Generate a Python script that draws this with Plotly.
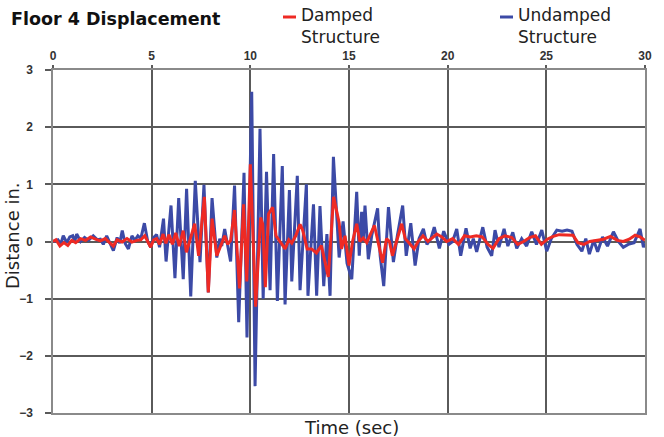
import plotly.graph_objects as go

# ---- data ----
undamped_t = [0.00, 0.25, 0.40, 0.52, 0.70, 0.85, 1.00, 1.10, 1.20, 1.40, 1.60, 1.80, 2.04, 2.25, 2.40,
              2.55, 2.72, 2.90, 3.06, 3.25, 3.38, 3.51, 3.65, 3.82, 4.00, 4.15, 4.30, 4.45, 4.63, 4.80,
              4.95, 5.10, 5.25, 5.40, 5.60, 5.73, 5.98, 6.18, 6.37, 6.60, 6.77, 6.98, 7.21, 7.45, 7.65,
              7.87, 8.06, 8.30, 8.45, 8.55, 8.70, 9.00, 9.20, 9.41, 9.68, 9.83, 10.07, 10.24, 10.49,
              10.65, 10.82, 11.00, 11.18, 11.37, 11.62, 11.76, 11.98, 12.10, 12.38, 12.52, 12.84, 12.92,
              13.20, 13.36, 13.53, 13.72, 13.88, 14.04, 14.21, 14.50, 14.70, 14.90, 15.14, 15.39, 15.52,
              15.64, 15.72, 15.81, 15.98, 16.15, 16.45, 16.58, 16.76, 17.00, 17.25, 17.45, 17.72, 17.90,
              18.13, 18.35, 18.55, 18.77, 18.95, 19.15, 19.32, 19.58, 19.80, 20.06, 20.25, 20.46, 20.66,
              20.93, 21.14, 21.30, 21.47, 21.78, 22.00, 22.23, 22.40, 22.60, 22.86, 23.05, 23.30, 23.50,
              23.75, 24.00, 24.26, 24.50, 24.77, 25.02, 25.25, 25.53, 25.80, 26.05, 26.30, 26.55, 26.80,
              27.00, 27.18, 27.40, 27.60, 27.85, 28.10, 28.40, 28.65, 28.90, 29.15, 29.45, 29.75, 29.92,
              30.00]
undamped_v = [0.00, 0.03, -0.04, 0.10, -0.02, 0.08, 0.10, 0.00, 0.13, 0.00, 0.07, 0.02, 0.10, 0.03, 0.04,
              -0.05, 0.10, -0.03, -0.16, 0.07, -0.03, 0.19, -0.03, -0.13, 0.10, 0.02, 0.10, 0.05, 0.32, 0.00,
              -0.10, 0.07, 0.12, -0.10, 0.40, -0.35, 0.63, -0.64, 0.76, -0.66, 0.92, -0.96, 1.06, -0.36, 0.99,
              -0.89, 0.76, -0.28, 0.05, -0.08, 0.22, -0.35, 0.98, -1.41, 1.20, -1.68, 2.62, -2.53, 1.97,
              -1.00, 1.22, -0.85, 1.53, -1.04, 1.32, -1.10, 0.90, -0.70, 1.15, -0.85, 1.00, -0.95,
              0.65, -0.95, 0.62, -0.78, 0.13, -0.95, 1.48, -0.28, 0.35, -0.38, -0.66, 0.87, -0.25,
              0.52, 0.00, 0.63, -0.31, 0.10, 0.58, -0.25, -0.78, 0.60, -0.36, 0.10, 0.63, -0.25,
              0.32, -0.42, 0.05, 0.22, -0.05, 0.05, 0.25, -0.12, 0.18, -0.05, 0.00, 0.22, -0.25,
              0.23, -0.12, 0.05, -0.18, 0.25, -0.10, -0.25, 0.20, -0.10, 0.22, -0.08, 0.16, -0.12,
              0.05, -0.08, 0.17, -0.05, 0.20, -0.17, 0.05, 0.20, 0.18, 0.20, 0.18, -0.05, -0.17,
              0.05, -0.22, 0.02, -0.18, 0.08, -0.08, 0.17, 0.00, -0.10, -0.05, -0.02, 0.22, -0.10,
              -0.03]

damped_t = [0.00, 0.15, 0.35, 0.55, 0.75, 0.95, 1.15, 1.40, 1.65, 1.90, 2.15, 2.40, 2.65, 2.90, 3.06,
            3.25, 3.50, 3.75, 4.00, 4.25, 4.45, 4.65, 4.80, 4.95, 5.10, 5.25, 5.40, 5.58, 5.72, 5.88,
            6.05, 6.22, 6.40, 6.60, 6.76, 6.95, 7.18, 7.38, 7.67, 7.87, 8.06, 8.30, 8.55, 8.70, 8.85,
            9.00, 9.20, 9.45, 9.66, 9.82, 10.00, 10.27, 10.52, 10.63, 10.76, 10.92, 11.13, 11.30, 11.50,
            11.76, 11.95, 12.10, 12.30, 12.52, 12.65, 12.88, 13.10, 13.35, 13.60, 13.95, 14.22, 14.50,
            14.62, 14.80, 15.00, 15.18, 15.39, 15.55, 15.72, 15.90, 16.05, 16.29, 16.48, 16.70, 16.90,
            17.05, 17.20, 17.67, 17.85, 18.05, 18.30, 18.50, 18.75, 19.00, 19.25, 19.45, 19.70, 19.95,
            20.25, 20.55, 20.85, 21.15, 21.45, 21.75, 22.05, 22.30, 22.60, 22.90, 23.25, 23.55, 23.85,
            24.15, 24.45, 24.75, 25.05, 25.35, 25.65, 26.00, 26.35, 26.60, 26.90, 27.20, 27.55, 27.90,
            28.25, 28.60, 28.90, 29.20, 29.50, 29.75, 30.00]
damped_v = [0.00, 0.03, -0.08, -0.02, -0.07, 0.02, -0.02, 0.05, 0.02, 0.08, 0.04, 0.01, 0.05, -0.04, -0.08,
            0.03, -0.01, 0.05, -0.01, 0.02, 0.03, 0.10, 0.01, -0.10, 0.03, 0.05, -0.05, 0.13, -0.03, 0.12,
            -0.05, 0.15, -0.08, 0.19, -0.19, 0.05, 0.31, -0.25, 0.78, -0.89, 0.40, -0.25, -0.03, 0.10, -0.05,
            0.02, 0.55, -0.82, 0.65, -0.70, 1.35, -1.14, 0.42, 0.30, -0.80, 0.48, 0.60, 0.10, 0.00,
            -0.13, 0.03, -0.03, 0.10, 0.30, 0.20, -0.13, -0.13, -0.20, -0.07, -0.62, 0.78, 0.33,
            -0.13, 0.10, -0.42, 0.00, 0.31, 0.00, 0.06, -0.02, 0.10, 0.28, -0.02, -0.37, 0.05,
            0.00, -0.25, 0.31, 0.05, -0.03, -0.13, 0.00, 0.10, 0.00, 0.08, 0.13, 0.08, 0.00,
            0.05, -0.05, 0.10, 0.08, 0.10, 0.08, -0.05, -0.12, 0.05, 0.10, 0.07, -0.05, 0.00,
            0.07, 0.10, -0.05, 0.04, 0.09, 0.12, 0.12, 0.11, -0.02, -0.05, 0.00, 0.02, 0.04,
            0.09, 0.02, 0.00, 0.04, 0.11, 0.08, 0.02]

x_ticks = [0, 5, 10, 15, 20, 25, 30]
y_ticks = [-3, -2, -1, 0, 1, 2, 3]

title_text = "Floor 4 Displacement"
damped_label = "Damped<br>Structure"
undamped_label = "Undamped<br>Structure"
x_title = "Time (sec)"
y_title = "Distance in."

RED = "#ee2a24"
BLUE = "#3c4aa6"
GRID = "#5a5a5a"

fig = go.Figure()
fig.add_trace(go.Scatter(x=undamped_t, y=undamped_v, mode="lines",
                         line=dict(color=BLUE, width=3), name="Undamped Structure"))
fig.add_trace(go.Scatter(x=damped_t, y=damped_v, mode="lines",
                         line=dict(color=RED, width=3), name="Damped Structure"))

axis_font = dict(family="Liberation Sans Narrow, Liberation Sans, sans-serif", size=12,
                 color="#333333", weight="bold")

fig.update_layout(
    width=664, height=437,
    margin=dict(l=53, r=19, t=70, b=24),
    paper_bgcolor="white", plot_bgcolor="white",
    showlegend=False,
    xaxis=dict(range=[0, 30], side="top", tickvals=x_ticks, ticks="outside", ticklen=3,
               tickcolor=GRID, tickwidth=1.5, showgrid=True, gridcolor=GRID, gridwidth=1.5,
               zeroline=False, showline=True, linecolor="#8a8a8a", linewidth=1.5, mirror=True,
               tickfont=axis_font),
    yaxis=dict(range=[-3, 3], tickvals=y_ticks, ticks="outside", ticklen=6,
               tickcolor=GRID, tickwidth=1.5, showgrid=True, gridcolor=GRID, gridwidth=1.5,
               zeroline=True, zerolinecolor=GRID, zerolinewidth=1.5,
               showline=True, linecolor="#8a8a8a", linewidth=1.5, mirror=True,
               tickfont=axis_font, ticklabelstandoff=10),
)

def px_x(px):
    return (px - 53) / 592

def px_y(py):
    return (413 - py) / 343

leg_font = dict(family="DejaVu Sans, sans-serif", size=17, color="#222222")
ax_font = dict(family="DejaVu Sans, sans-serif", size=18, color="#222222")

# title
fig.add_annotation(text=title_text, xref="paper", yref="paper", x=px_x(9), y=px_y(19),
                   xanchor="left", yanchor="middle", showarrow=False,
                   font=dict(family="DejaVu Sans, sans-serif", size=17.5, color="#111111", weight="bold"))

# custom legend
for (x0, x1, col, tx, label) in [(283, 296, RED, 299, damped_label), (500, 513, BLUE, 516, undamped_label)]:
    fig.add_shape(type="line", xref="paper", yref="paper", x0=px_x(x0), x1=px_x(x1),
                  y0=px_y(17), y1=px_y(17), line=dict(color=col, width=3))
    fig.add_annotation(text=label, xref="paper", yref="paper", x=px_x(tx), y=px_y(26),
                       xanchor="left", yanchor="middle", align="left", showarrow=False,
                       font=leg_font)

# axis titles
fig.add_annotation(text=x_title, xref="paper", yref="paper", x=px_x(351), y=px_y(427),
                   xanchor="center", yanchor="middle", showarrow=False, font=ax_font)
fig.add_annotation(text=y_title, xref="paper", yref="paper", x=px_x(12), y=px_y(236),
                   xanchor="center", yanchor="middle", showarrow=False, textangle=-90,
                   font=ax_font)

fig.write_html("out.html", config={"displayModeBar": False},
               post_script="document.body.style.margin='0px';document.body.style.overflow='hidden';")
